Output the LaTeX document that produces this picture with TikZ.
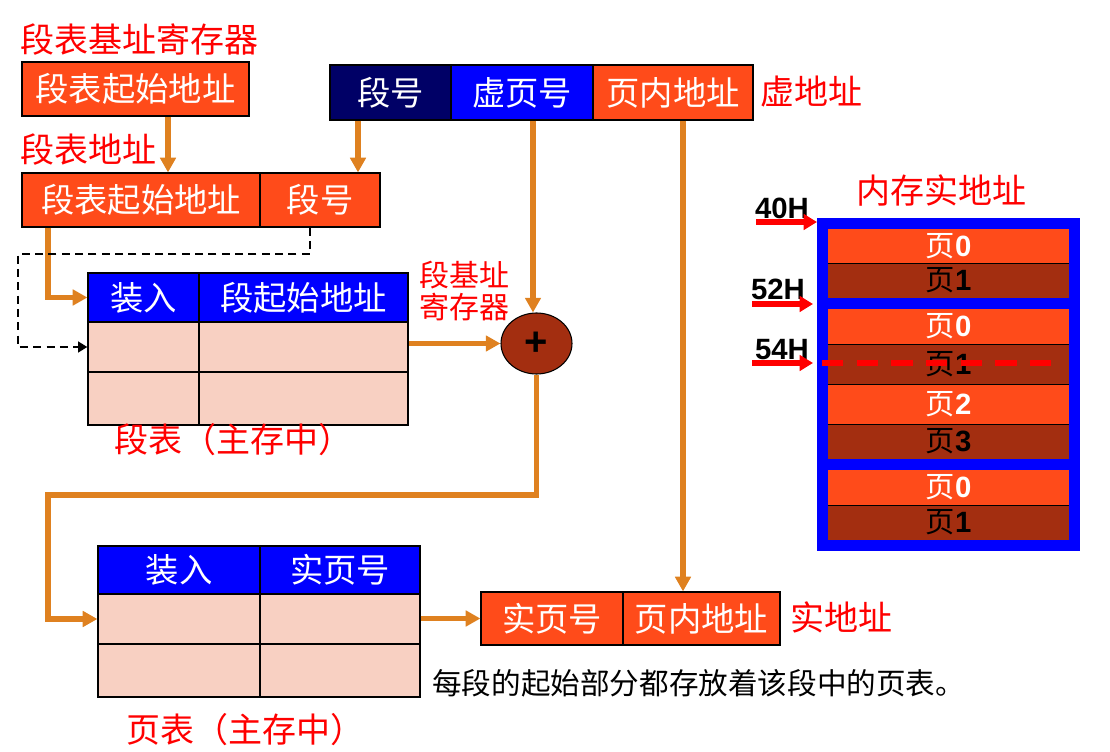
\documentclass[tikz,border=0pt]{standalone}
\usepackage{fontspec}
\setmainfont{Noto Sans CJK SC}
\newfontfamily\arial{Liberation Sans}
\usetikzlibrary{arrows.meta,calc,shapes.geometric}
\definecolor{orred}{RGB}{255,75,26}
\definecolor{navy}{RGB}{0,0,102}
\definecolor{pblue}{RGB}{0,0,255}
\definecolor{brn}{RGB}{163,46,16}
\definecolor{arr}{RGB}{223,129,32}
\definecolor{peach}{RGB}{248,208,194}
\definecolor{lred}{RGB}{255,0,0}
\begin{document}
\begin{tikzpicture}[x=0.75pt,y=-0.75pt,
  sz/.style 2 args={minimum width=#1*0.75pt, minimum height=#2*0.75pt},
  cell/.style={draw=black, line width=0.9pt, inner sep=0pt, font=\fontsize{25}{28}\selectfont, text=white},
  redbox/.style={cell, fill=orred},
  hdr/.style={cell, fill=pblue},
  body/.style={cell, fill=peach},
  lbl/.style={text=lred, inner sep=0pt, font=\fontsize{25.5}{28}\selectfont},
  oarr/.style={draw=arr, line width=3.8pt, -{Triangle[length=11pt,width=11.5pt]}},
  darr/.style={draw=black, line width=2.2pt, dash pattern=on 6pt off 4pt, -{Triangle[length=7pt,width=8pt]}},
  rarr/.style={draw=lred, line width=4pt, -{Triangle[length=10pt,width=11.5pt]}},
  strip/.style={inner sep=0pt, sz={241}{#1}, font=\fontsize{22}{24}\selectfont},
  lt/.style={strip=#1, fill=orred, text=white},
  dk/.style={strip=#1, fill=brn, text=black},
  addr/.style={inner sep=0pt, font=\arial\bfseries\fontsize{22}{24}\selectfont}
]
\useasboundingbox (0,0) rectangle (1110,752);

% top-left registers
\node[lbl, anchor=west] (l1) at (20,40) {段表基址寄存器};
\node[redbox, sz={227}{54}] (b1) at (135.5,89) {段表起始地址};
\node[lbl, anchor=west] (l2) at (20,150) {段表地址};
\node[redbox, sz={238}{54}] (b2a) at (141,200) {段表起始地址};
\node[redbox, sz={120}{54}] (b2b) at (320,200) {段号};

% virtual address
\node[cell, fill=navy, sz={121}{55}] (v1) at (390.5,92.5) {段号};
\node[cell, fill=pblue, sz={142}{55}] (v2) at (522,92.5) {虚页号};
\node[redbox, sz={160}{55}] (v3) at (673,92.5) {页内地址};
\node[lbl, anchor=west] (l3) at (760,92) {虚地址};

% segment table
\node[hdr, sz={111}{49}] (sh1) at (143.5,297.5) {装入};
\node[hdr, sz={209}{49}] (sh2) at (303.5,297.5) {段起始地址};
\node[body, sz={111}{50}] (sa1) at (143.5,347) {};
\node[body, sz={209}{50}] (sb1) at (303.5,347) {};
\node[body, sz={111}{53}] (sa2) at (143.5,398.5) {};
\node[body, sz={209}{53}] (sb2) at (303.5,398.5) {};
\node[lbl] (stl) at (233,440) {段表（主存中）};
\node[lbl, anchor=west, align=left, font=\fontsize{22.5}{24.5}\selectfont] (sbr) at (419,291) {段基址\\寄存器};

% adder
\node[ellipse, draw=black, line width=0.8pt, fill=brn, inner sep=0pt, sz={71}{61},
      font=\arial\bfseries\fontsize{30}{30}\selectfont] (plus) at (536.5,343.5) {+};

% page table
\node[hdr, sz={162}{48}] (ph1) at (179,570) {装入};
\node[hdr, sz={160}{48}] (ph2) at (340,570) {实页号};
\node[body, sz={162}{50}] (pa1) at (179,619) {};
\node[body, sz={160}{50}] (pb1) at (340,619) {};
\node[body, sz={162}{53}] (pa2) at (179,670.5) {};
\node[body, sz={160}{53}] (pb2) at (340,670.5) {};
\node[lbl] (ptl) at (245,730) {页表（主存中）};

% real address
\node[redbox, sz={142}{53}] (r1) at (552,618.5) {实页号};
\node[redbox, sz={157}{53}] (r2) at (701.5,618.5) {页内地址};
\node[lbl, anchor=west] (l4) at (790,617) {实地址};
\node[anchor=west, inner sep=0pt, font=\fontsize{22.2}{26}\selectfont] (note) at (432,683) {每段的起始部分都存放着该段中的页表。};

% memory
\node[lbl] (mt) at (941,190) {内存实地址};
\node[fill=pblue, inner sep=0pt, sz={263}{333}] (mem) at (948.5,384.5) {};
\node[lt=34] (p0a) at (948.5,246) {页\arial\bfseries 0};
\node[dk=35] (p1a) at (948.5,280.5) {页\arial\bfseries 1};
\node[lt=35] (p0b) at (948.5,326.5) {页\arial\bfseries 0};
\node[dk=40] (p1b) at (948.5,364) {页\arial\bfseries 1};
\node[lt=40] (p2b) at (948.5,404) {页\arial\bfseries 2};
\node[dk=35] (p3b) at (948.5,441.5) {页\arial\bfseries 3};
\node[lt=35] (p0c) at (948.5,487.5) {页\arial\bfseries 0};
\node[dk=35] (p1c) at (948.5,522.5) {页\arial\bfseries 1};
\foreach \n in {p0a,p0b,p1b,p2b,p0c}
  \draw[black, line width=0.6pt] (\n.south west) -- (\n.south east);

% address markers
\node[addr] (h40) at (782,208) {40H};
\node[addr] (h52) at (778,289) {52H};
\node[addr] (h54) at (782,350) {54H};
\coordinate (s40) at (756,222); \coordinate (e40) at (817,222);
\coordinate (s52) at (752,304); \coordinate (e52) at (813,304);
\coordinate (s54) at (752,363); \coordinate (e54) at (813,363);
\draw[rarr] (s40) -- (e40);
\draw[rarr] (s52) -- (e52);
\draw[rarr] (s54) -- (e54);
\coordinate (ds) at (822,363); \coordinate (de) at (1055,363);
\draw[lred, line width=4.2pt, dash pattern=on 16pt off 10pt] (ds) -- (de);

% connectors
\coordinate (xa) at (168,0);
\coordinate (xb) at (358,0);
\coordinate (xc) at (533,0);
\coordinate (xd) at (683,0);
\coordinate (xe) at (48,0);
\coordinate (d1) at (310,254);
\coordinate (d2) at (18,254);
\coordinate (c1) at (48,495);
\draw[oarr] (b1.south -| xa) -- (b2a.north -| xa);
\draw[oarr] (v1.south -| xb) -- (b2b.north -| xb);
\draw[oarr] (v2.south -| xc) -- (plus.north -| xc);
\draw[oarr] (v3.south -| xd) -- (r2.north -| xd);
\draw[oarr] (b2a.south -| xe) |- (sh1.west);
\draw[darr] (b2b.south -| d1) -- (d1) -- (d2) |- (sa1.west);
\draw[oarr] (sb1.east |- plus) -- (plus.west);
\draw[oarr] (plus.south) |- (c1) |- (pa1.west);
\draw[oarr] (pb1.east |- r1) -- (r1.west);
\end{tikzpicture}
\end{document}
